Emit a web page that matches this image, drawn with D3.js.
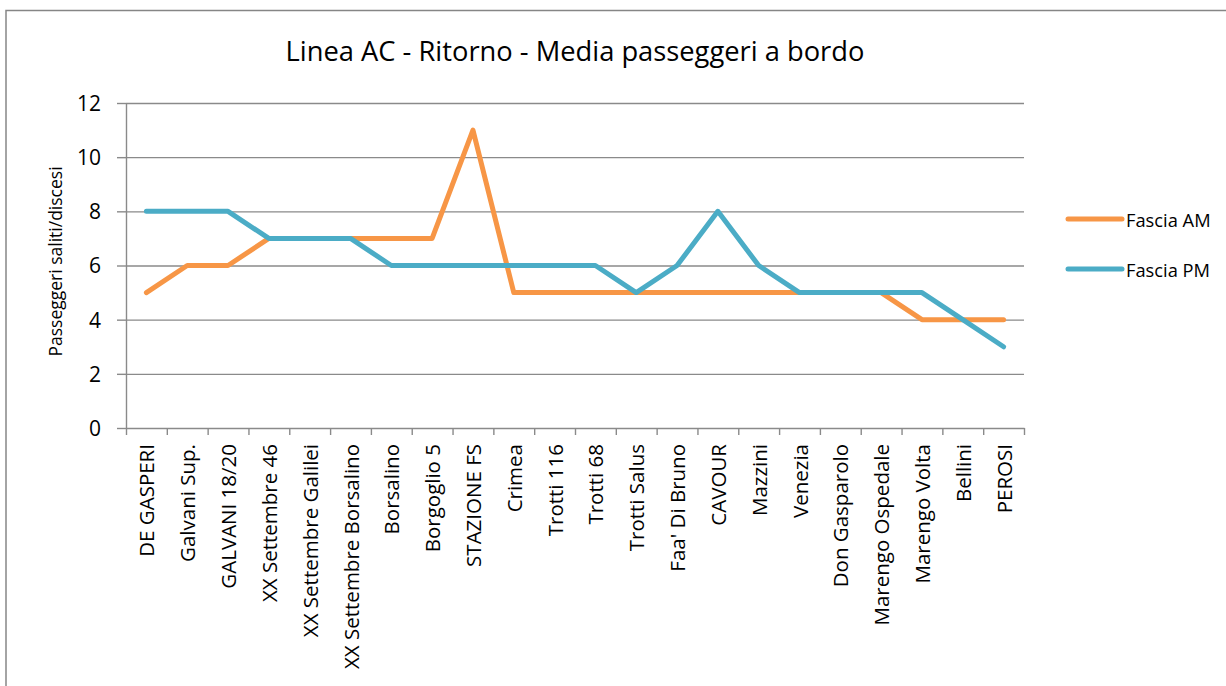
<!DOCTYPE html>
<html>
<head>
<meta charset="utf-8">
<script src="https://cdn.jsdelivr.net/npm/d3@7"></script>
<style>
  html, body { margin: 0; padding: 0; background: #fff; }
  svg { display: block; font-family: "Open Sans", "Noto Sans", sans-serif; }
</style>
</head>
<body>
<svg id="chart" width="1226" height="686"></svg>
<script>
const categories = ["DE GASPERI", "Galvani Sup.", "GALVANI 18/20", "XX Settembre 46", "XX Settembre Galilei",
  "XX Settembre Borsalino", "Borsalino", "Borgoglio 5", "STAZIONE FS", "Crimea", "Trotti 116", "Trotti 68",
  "Trotti Salus", "Faa' Di Bruno", "CAVOUR", "Mazzini", "Venezia", "Don Gasparolo", "Marengo Ospedale",
  "Marengo Volta", "Bellini", "PEROSI"];
const fasciaAM = [5, 6, 6, 7, 7, 7, 7, 7, 11, 5, 5, 5, 5, 5, 5, 5, 5, 5, 5, 4, 4, 4];
const fasciaPM = [8, 8, 8, 7, 7, 7, 6, 6, 6, 6, 6, 6, 5, 6, 8, 6, 5, 5, 5, 5, 4, 3];
const yTicks = [0, 2, 4, 6, 8, 10, 12];
const seriesNames = ["Fascia AM", "Fascia PM"];
const chartTitle = "Linea AC - Ritorno - Media passeggeri a bordo";
const yTitle = "Passeggeri saliti/discesi";

(function () {
const colors = ["#F79646", "#4BACC6"];
const gridColor = "#8a8a8a";

const svg = d3.select("#chart");
const pL = 126, pR = 1024, pT = 103, pB = 428;

// outer frame
svg.append("rect")
  .attr("x", 6).attr("y", 10.5).attr("width", 1240).attr("height", 700)
  .attr("fill", "none").attr("stroke", "#868686").attr("stroke-width", 1.5);

const x = d3.scaleBand().domain(categories).range([pL, pR]).padding(0);
const xEdges = d3.scaleLinear().domain([0, categories.length]).range([pL, pR]);
const y = d3.scaleLinear().domain([0, 12]).range([pB, pT]);

// gridlines
svg.append("g")
  .attr("transform", `translate(${pL},0)`)
  .call(d3.axisLeft(y).tickValues(yTicks.filter(d => d > 0)).tickSize(-(pR - pL)).tickFormat(""))
  .call(g => g.select(".domain").remove())
  .call(g => g.selectAll("line").attr("stroke", gridColor).attr("stroke-width", 1.4));

// y axis
svg.append("g")
  .attr("transform", `translate(${pL},0)`)
  .call(d3.axisLeft(y).tickValues(yTicks).tickSizeInner(9).tickSizeOuter(0).tickPadding(16))
  .call(g => g.select(".domain").attr("stroke", gridColor).attr("stroke-width", 1.4))
  .call(g => g.selectAll("line").attr("stroke", gridColor).attr("stroke-width", 1.4))
  .call(g => g.selectAll("text").attr("font-size", 21).attr("fill", "#000")
      .attr("font-family", "'Open Sans', sans-serif").attr("dy", "0.35em"));

// x axis line + ticks at category boundaries
svg.append("g")
  .attr("transform", `translate(0,${pB})`)
  .call(d3.axisBottom(xEdges).tickValues(d3.range(categories.length + 1)).tickSizeInner(7).tickSizeOuter(0).tickFormat(""))
  .call(g => g.select(".domain").attr("stroke", gridColor).attr("stroke-width", 1.4))
  .call(g => g.selectAll("line").attr("stroke", gridColor).attr("stroke-width", 1.4));

// x labels
svg.append("g")
  .attr("transform", `translate(0,${pB})`)
  .call(d3.axisBottom(x).tickSize(0).tickPadding(0))
  .call(g => g.select(".domain").remove())
  .call(g => g.selectAll("text")
      .attr("font-size", 20.5).attr("fill", "#000")
      .attr("font-family", "'Open Sans', sans-serif")
      .attr("text-anchor", "end")
      .attr("dy", null)
      .attr("y", 0)
      .attr("dominant-baseline", "central")
      .attr("transform", "translate(0,16) rotate(-90)"));

// lines
const line = d3.line()
  .x((d, i) => x(categories[i]) + x.bandwidth() / 2)
  .y(d => y(d));

[fasciaAM, fasciaPM].forEach((vals, k) => {
  svg.append("path")
    .datum(vals)
    .attr("d", line)
    .attr("fill", "none")
    .attr("stroke", colors[k])
    .attr("stroke-width", 5)
    .attr("stroke-linejoin", "round")
    .attr("stroke-linecap", "round");
});

// title
svg.append("text")
  .attr("x", 575).attr("y", 61)
  .attr("text-anchor", "middle")
  .attr("font-size", 27.3)
  .attr("fill", "#000")
  .text(chartTitle);

// y title
svg.append("text")
  .attr("transform", `translate(55,${(pT + pB) / 2 - 4}) rotate(-90)`)
  .attr("text-anchor", "middle")
  .attr("dominant-baseline", "central")
  .attr("font-size", 17.5)
  .attr("fill", "#000")
  .text(yTitle);

// legend
const legendY = [219, 269];
seriesNames.forEach((name, k) => {
  svg.append("line")
    .attr("x1", 1068).attr("x2", 1122)
    .attr("y1", legendY[k]).attr("y2", legendY[k])
    .attr("stroke", colors[k]).attr("stroke-width", 5)
    .attr("stroke-linecap", "round");
  svg.append("text")
    .attr("x", 1126).attr("y", legendY[k])
    .attr("dominant-baseline", "central")
    .attr("font-size", 18.3)
    .attr("fill", "#000")
    .text(name);
});
})();
</script>
</body>
</html>
